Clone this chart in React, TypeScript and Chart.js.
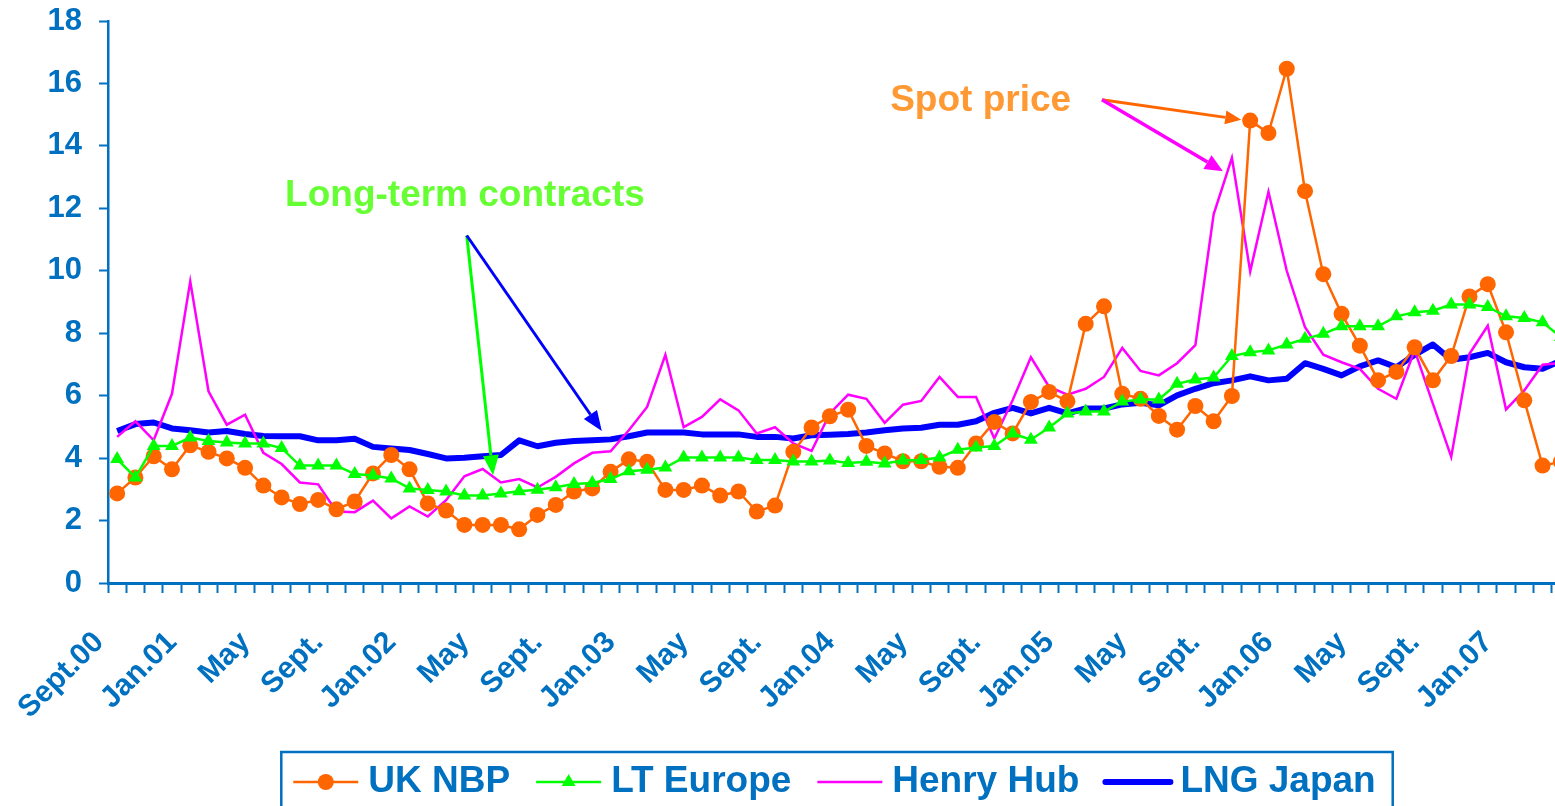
import React, { useEffect, useRef } from 'react';
import { Chart, registerables } from 'chart.js';

Chart.register(...registerables);

// ---------- data ----------
const startYear = 2000;
const startMonth = 8; // September (0-based)
const monthCount = 80;
const categories: string[] = Array.from({ length: monthCount }, (_, i) => {
  const m = (startMonth + i) % 12;
  const y = startYear + Math.floor((startMonth + i) / 12);
  return `${y}-${String(m + 1).padStart(2, '0')}`;
});

const tickLabels = [
  'Sept.00', 'Jan.01', 'May', 'Sept.', 'Jan.02', 'May', 'Sept.', 'Jan.03', 'May', 'Sept.',
  'Jan.04', 'May', 'Sept.', 'Jan.05', 'May', 'Sept.', 'Jan.06', 'May', 'Sept.', 'Jan.07',
];
const tickLabelEvery = 4;

const ukNbp = [
  2.87, 3.38, 4.06, 3.64, 4.41, 4.2, 3.99, 3.69, 3.12, 2.74,
  2.53, 2.66, 2.36, 2.61, 3.51, 4.1, 3.64, 2.55, 2.32, 1.86,
  1.86, 1.86, 1.72, 2.18, 2.5, 2.93, 3.03, 3.56, 3.96, 3.88,
  2.98, 2.98, 3.12, 2.8, 2.93, 2.29, 2.48, 4.2, 4.98, 5.34,
  5.55, 4.39, 4.15, 3.9, 3.9, 3.72, 3.69, 4.47, 5.16, 4.79,
  5.8, 6.12, 5.82, 8.3, 8.86, 6.06, 5.9, 5.35, 4.91, 5.67,
  5.18, 5.99, 14.81, 14.41, 16.47, 12.55, 9.89, 8.62, 7.6, 6.49,
  6.76, 7.55, 6.49, 7.27, 9.18, 9.57, 8.03, 5.85, 3.76, 3.88,
];

const ltEurope = [
  3.97, 3.38, 4.39, 4.39, 4.66, 4.55, 4.5, 4.47, 4.47, 4.32,
  3.76, 3.76, 3.76, 3.49, 3.44, 3.35, 3.03, 2.98, 2.93, 2.8,
  2.8, 2.87, 2.94, 2.99, 3.07, 3.17, 3.2, 3.33, 3.58, 3.63,
  3.7, 4.02, 4.02, 4.02, 4.02, 3.94, 3.94, 3.89, 3.89, 3.92,
  3.84, 3.88, 3.83, 3.92, 3.94, 4.02, 4.27, 4.34, 4.39, 4.79,
  4.59, 4.98, 5.43, 5.49, 5.49, 5.81, 5.88, 5.88, 6.38, 6.52,
  6.58, 7.27, 7.39, 7.45, 7.64, 7.82, 7.98, 8.22, 8.22, 8.22,
  8.54, 8.67, 8.72, 8.92, 8.92, 8.84, 8.54, 8.49, 8.35, 7.88,
];

const henryHub = [
  4.68, 5.18, 4.57, 6.06, 9.66, 6.14, 5.07, 5.39, 4.17, 3.81,
  3.22, 3.16, 2.29, 2.27, 2.64, 2.07, 2.45, 2.13, 2.65, 3.42,
  3.65, 3.22, 3.33, 3.06, 3.4, 3.83, 4.17, 4.22, 4.89, 5.64,
  7.31, 4.99, 5.32, 5.88, 5.53, 4.79, 4.99, 4.47, 4.23, 5.43,
  6.03, 5.9, 5.13, 5.71, 5.83, 6.6, 5.96, 5.96, 4.63, 5.85,
  7.23, 6.28, 6.03, 6.22, 6.6, 7.53, 6.79, 6.65, 7.04, 7.62,
  11.81, 13.62, 9.98, 12.53, 10.0, 8.19, 7.31, 7.07, 6.86, 6.22,
  5.9, 7.45, 5.74, 4.04, 7.34, 8.24, 5.56, 6.17, 6.99, 7.05,
];

const lngJapan = [
  4.87, 5.09, 5.14, 4.95, 4.89, 4.82, 4.87, 4.77, 4.71, 4.7,
  4.7, 4.57, 4.57, 4.62, 4.36, 4.31, 4.26, 4.13, 3.99, 4.01,
  4.06, 4.1, 4.57, 4.38, 4.49, 4.55, 4.57, 4.6, 4.7, 4.82,
  4.82, 4.82, 4.76, 4.76, 4.76, 4.68, 4.68, 4.63, 4.73, 4.75,
  4.77, 4.82, 4.89, 4.95, 4.97, 5.07, 5.07, 5.18, 5.45, 5.61,
  5.43, 5.61, 5.43, 5.59, 5.59, 5.72, 5.77, 5.69, 6.01, 6.22,
  6.4, 6.49, 6.62, 6.49, 6.54, 7.04, 6.86, 6.65, 6.94, 7.13,
  6.91, 7.31, 7.64, 7.15, 7.23, 7.37, 7.07, 6.91, 6.86, 7.12,
];

// annotation anchors, in data space: [category index, value]
const longTermLabelAt = [9.19, 12.09];
const longTermArrowFrom = [19.13, 11.13];
const longTermArrowToLT = [20.57, 3.45];
const longTermArrowToLNG = [26.52, 4.87];
const spotLabelAt = [42.3, 15.13];
const spotArrowFrom = [53.89, 15.48];
const spotArrowToNBP = [61.51, 14.84];
const spotArrowToHH = [60.51, 13.19];

// ---------- styles ----------
const AXIS_BLUE = '#0070C0';
const FONT = '"Liberation Sans", Arial, Helvetica, sans-serif';
const C_NBP = '#FF6600';
const C_LT = '#00FF00';
const C_HH = '#FF00FF';
const C_LNG = '#0000FF';

function drawArrow(
  ctx: CanvasRenderingContext2D,
  x1: number, y1: number, x2: number, y2: number,
  color: string, width: number, headLen: number, headHalf: number,
) {
  const ang = Math.atan2(y2 - y1, x2 - x1);
  const bx = x2 - headLen * Math.cos(ang);
  const by = y2 - headLen * Math.sin(ang);
  ctx.strokeStyle = color;
  ctx.lineWidth = width;
  ctx.lineCap = 'butt';
  ctx.beginPath();
  ctx.moveTo(x1, y1);
  ctx.lineTo(bx, by);
  ctx.stroke();
  ctx.fillStyle = color;
  ctx.beginPath();
  ctx.moveTo(x2, y2);
  ctx.lineTo(bx + headHalf * Math.sin(ang), by - headHalf * Math.cos(ang));
  ctx.lineTo(bx - headHalf * Math.sin(ang), by + headHalf * Math.cos(ang));
  ctx.closePath();
  ctx.fill();
}

function drawMarker(ctx: CanvasRenderingContext2D, style: string, x: number, y: number, r: number, color: string) {
  ctx.fillStyle = color;
  ctx.beginPath();
  if (style === 'circle') {
    ctx.arc(x, y, r, 0, Math.PI * 2);
  } else if (style === 'triangle') {
    let rad = 0;
    ctx.moveTo(x + Math.sin(rad) * r, y - Math.cos(rad) * r);
    rad += (2 * Math.PI) / 3;
    ctx.lineTo(x + Math.sin(rad) * r, y - Math.cos(rad) * r);
    rad += (2 * Math.PI) / 3;
    ctx.lineTo(x + Math.sin(rad) * r, y - Math.cos(rad) * r);
    ctx.closePath();
  }
  ctx.fill();
}

const annotationPlugin = {
  id: 'annotationsAndLegend',
  afterDraw(chart: any) {
    const ctx: CanvasRenderingContext2D = chart.ctx;
    const xs = chart.scales.x;
    const ys = chart.scales.y;
    const P = (p: number[]) => [xs.getPixelForValue(p[0]), ys.getPixelForValue(p[1])];
    ctx.save();

    // annotation texts
    ctx.textBaseline = 'alphabetic';
    ctx.textAlign = 'left';
    ctx.font = `bold 37px ${FONT}`;
    ctx.fillStyle = '#66FF33';
    const lt = P(longTermLabelAt);
    ctx.fillText('Long-term contracts', lt[0], lt[1]);
    ctx.fillStyle = '#FF9933';
    const sp = P(spotLabelAt);
    ctx.fillText('Spot price', sp[0], sp[1]);

    // arrows
    const a0 = P(longTermArrowFrom);
    const a1 = P(longTermArrowToLT);
    const a2 = P(longTermArrowToLNG);
    drawArrow(ctx, a0[0], a0[1], a1[0], a1[1], C_LT, 3, 20, 8);
    drawArrow(ctx, a0[0], a0[1], a2[0], a2[1], C_LNG, 3, 20, 8);
    const s0 = P(spotArrowFrom);
    const s1 = P(spotArrowToNBP);
    const s2 = P(spotArrowToHH);
    drawArrow(ctx, s0[0], s0[1], s1[0], s1[1], C_NBP, 3, 16, 7);
    drawArrow(ctx, s0[0], s0[1], s2[0], s2[1], C_HH, 3.5, 18, 8);

    // legend
    const items = chart.data.datasets.map((d: any) => ({
      text: d.label as string,
      color: d.borderColor as string,
      width: d.borderWidth as number,
      marker: d.pointRadius > 0 ? (d.pointStyle as string) : '',
      r: d.pointRadius as number,
    }));
    ctx.font = `bold 37px ${FONT}`;
    const lineLen = 65;
    const gapText = 10;
    const gapItem = 26;
    const padL = 12;
    const padR = 17;
    let total = padL + padR + gapItem * (items.length - 1);
    items.forEach((it: any) => { total += lineLen + gapText + ctx.measureText(it.text).width; });
    const ca = chart.chartArea;
    const cx = (ca.left + ca.right) / 2 - 2;
    const boxL = cx - total / 2;
    const boxT = ca.bottom + 169;
    const midY = ca.bottom + 199;
    ctx.strokeStyle = AXIS_BLUE;
    ctx.lineWidth = 2.5;
    ctx.strokeRect(boxL, boxT, total, 140);
    let x = boxL + padL;
    items.forEach((it: any) => {
      ctx.strokeStyle = it.color;
      ctx.lineWidth = it.width;
      ctx.lineCap = it.width > 4 ? 'round' : 'butt';
      ctx.beginPath();
      ctx.moveTo(x, midY);
      ctx.lineTo(x + lineLen, midY);
      ctx.stroke();
      if (it.marker) drawMarker(ctx, it.marker, x + lineLen / 2, midY, it.r, it.color);
      x += lineLen + gapText;
      ctx.fillStyle = AXIS_BLUE;
      ctx.textBaseline = 'middle';
      ctx.fillText(it.text, x, midY);
      x += ctx.measureText(it.text).width + gapItem;
    });
    ctx.restore();
  },
};

export default function App() {
  const ref = useRef<HTMLCanvasElement | null>(null);

  useEffect(() => {
    if (!ref.current) return;
    const chart = new Chart(ref.current, {
      type: 'line',
      data: {
        labels: categories,
        datasets: [
          {
            label: 'UK NBP', data: ukNbp, borderColor: C_NBP, backgroundColor: C_NBP,
            borderWidth: 2.5, pointStyle: 'circle', pointRadius: 8, pointBorderWidth: 0,
            pointBackgroundColor: C_NBP, order: 1, tension: 0,
          },
          {
            label: 'LT Europe', data: ltEurope, borderColor: C_LT, backgroundColor: C_LT,
            borderWidth: 2.5, pointStyle: 'triangle', pointRadius: 8, pointBorderWidth: 0,
            pointBackgroundColor: C_LT, order: 0, tension: 0,
          },
          {
            label: 'Henry Hub', data: henryHub, borderColor: C_HH, backgroundColor: C_HH,
            borderWidth: 2.5, pointRadius: 0, order: 2, tension: 0,
          },
          {
            label: 'LNG Japan', data: lngJapan, borderColor: C_LNG, backgroundColor: C_LNG,
            borderWidth: 6, pointRadius: 0, order: 3, tension: 0, borderJoinStyle: 'round',
          },
        ],
      } as any,
      options: {
        responsive: true,
        maintainAspectRatio: false,
        animation: false,
        layout: { autoPadding: false, padding: { top: 21, right: 0, bottom: 127, left: 0 } },
        plugins: { legend: { display: false }, tooltip: { enabled: false } },
        scales: {
          x: {
            type: 'category',
            offset: true,
            grid: {
              display: true, drawOnChartArea: false, drawTicks: true, tickLength: 10,
              tickColor: AXIS_BLUE, tickWidth: 2, offset: true,
            },
            border: { display: true, color: AXIS_BLUE, width: 3 },
            ticks: {
              autoSkip: false, minRotation: 45, maxRotation: 45, color: AXIS_BLUE,
              font: { family: FONT, size: 30, weight: 'bold' }, padding: 32, labelOffset: -18,
              callback: (_v: any, i: number) => (i % tickLabelEvery === 0 ? tickLabels[i / tickLabelEvery] ?? '' : ''),
            },
            afterFit: (s: any) => { s.height = 150; s.paddingLeft = 0; s.paddingRight = 0; },
          },
          y: {
            min: 0, max: 18,
            grid: {
              display: true, drawOnChartArea: false, drawTicks: true, tickLength: 9,
              tickColor: AXIS_BLUE, tickWidth: 2,
            },
            border: { display: true, color: AXIS_BLUE, width: 2.5 },
            ticks: {
              stepSize: 2, color: AXIS_BLUE, padding: 17,
              font: { family: FONT, size: 31, weight: 'bold' },
            },
            afterFit: (s: any) => { s.width = 108; s.paddingTop = 0; s.paddingBottom = 0; },
          },
        },
      } as any,
      plugins: [annotationPlugin],
    });
    return () => chart.destroy();
  }, []);

  return (
    <div style={{ position: 'fixed', left: 0, top: 0, width: 1555, height: 806, overflow: 'hidden', background: '#fff' }}>
      <div style={{ position: 'relative', width: 1570, height: 860 }}>
        <canvas ref={ref} />
      </div>
    </div>
  );
}
